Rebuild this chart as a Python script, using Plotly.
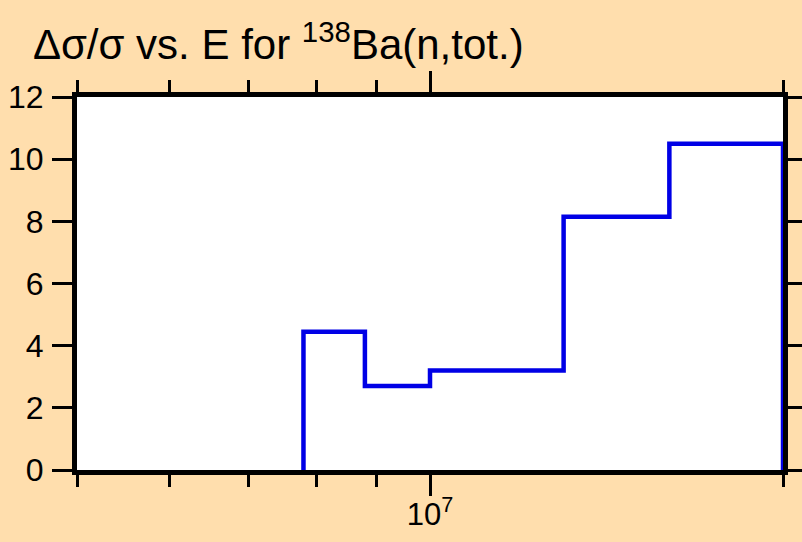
import plotly.graph_objects as go

# Bin edges (energy, eV) and relative uncertainty values (%)
edges = [7.8e6, 8.8e6, 1.0e7, 1.3e7, 1.6e7, 2.0e7]
values = [4.45, 2.70, 3.20, 8.15, 10.50]

x_tickvals = [1e7]
x_ticktext = ["10<sup>7</sup>"]
x_minor = [5e6, 6e6, 7e6, 8e6, 9e6, 2e7]
y_tickvals = [0, 2, 4, 6, 8, 10, 12]

xs = [edges[0]] + edges + [edges[-1]]
ys = [0] + values + [values[-1], 0]

fig = go.Figure()
fig.add_trace(go.Scatter(x=xs, y=ys, mode="lines", line=dict(shape="hv", color="#0000E6", width=4.5),
                         showlegend=False, hoverinfo="skip"))

font = dict(family="Liberation Sans, Arial, sans-serif", size=30, color="black")
fig.update_layout(
    width=802, height=542,
    paper_bgcolor="#FFDEAD", plot_bgcolor="white",
    margin=dict(l=77, r=19, t=97, b=72),
    font=font,
    title=dict(text="Δσ/σ vs. E for <sup>138</sup>Ba(n,tot.)", x=0.041, xanchor="left",
               y=0.918, yanchor="middle", font=dict(size=42), automargin=False),
    xaxis=dict(type="log", range=[6.69897, 7.30103], tickvals=x_tickvals, ticktext=x_ticktext,
               ticks="outside", ticklen=21, tickwidth=2.5, tickcolor="black",
               showline=True, linewidth=5, linecolor="black", mirror="ticks",
               showgrid=False, zeroline=False, automargin=False, ticklabelstandoff=-8,
               tickfont=dict(size=31),
               minor=dict(tickvals=x_minor, ticks="outside", ticklen=12, tickwidth=2.5, tickcolor="black", showgrid=False)),
    yaxis=dict(range=[0, 12], tickvals=y_tickvals, ticks="outside", ticklen=20, tickwidth=2.5, tickcolor="black",
               showline=True, linewidth=5, linecolor="black", mirror="ticks",
               showgrid=False, zeroline=False, automargin=False, ticklabelstandoff=2,
               tickfont=dict(size=32)),
)
fig.write_html("out.html", config={"displayModeBar": False},
               post_script="document.body.style.margin='0';document.body.style.background='#FFDEAD';")
